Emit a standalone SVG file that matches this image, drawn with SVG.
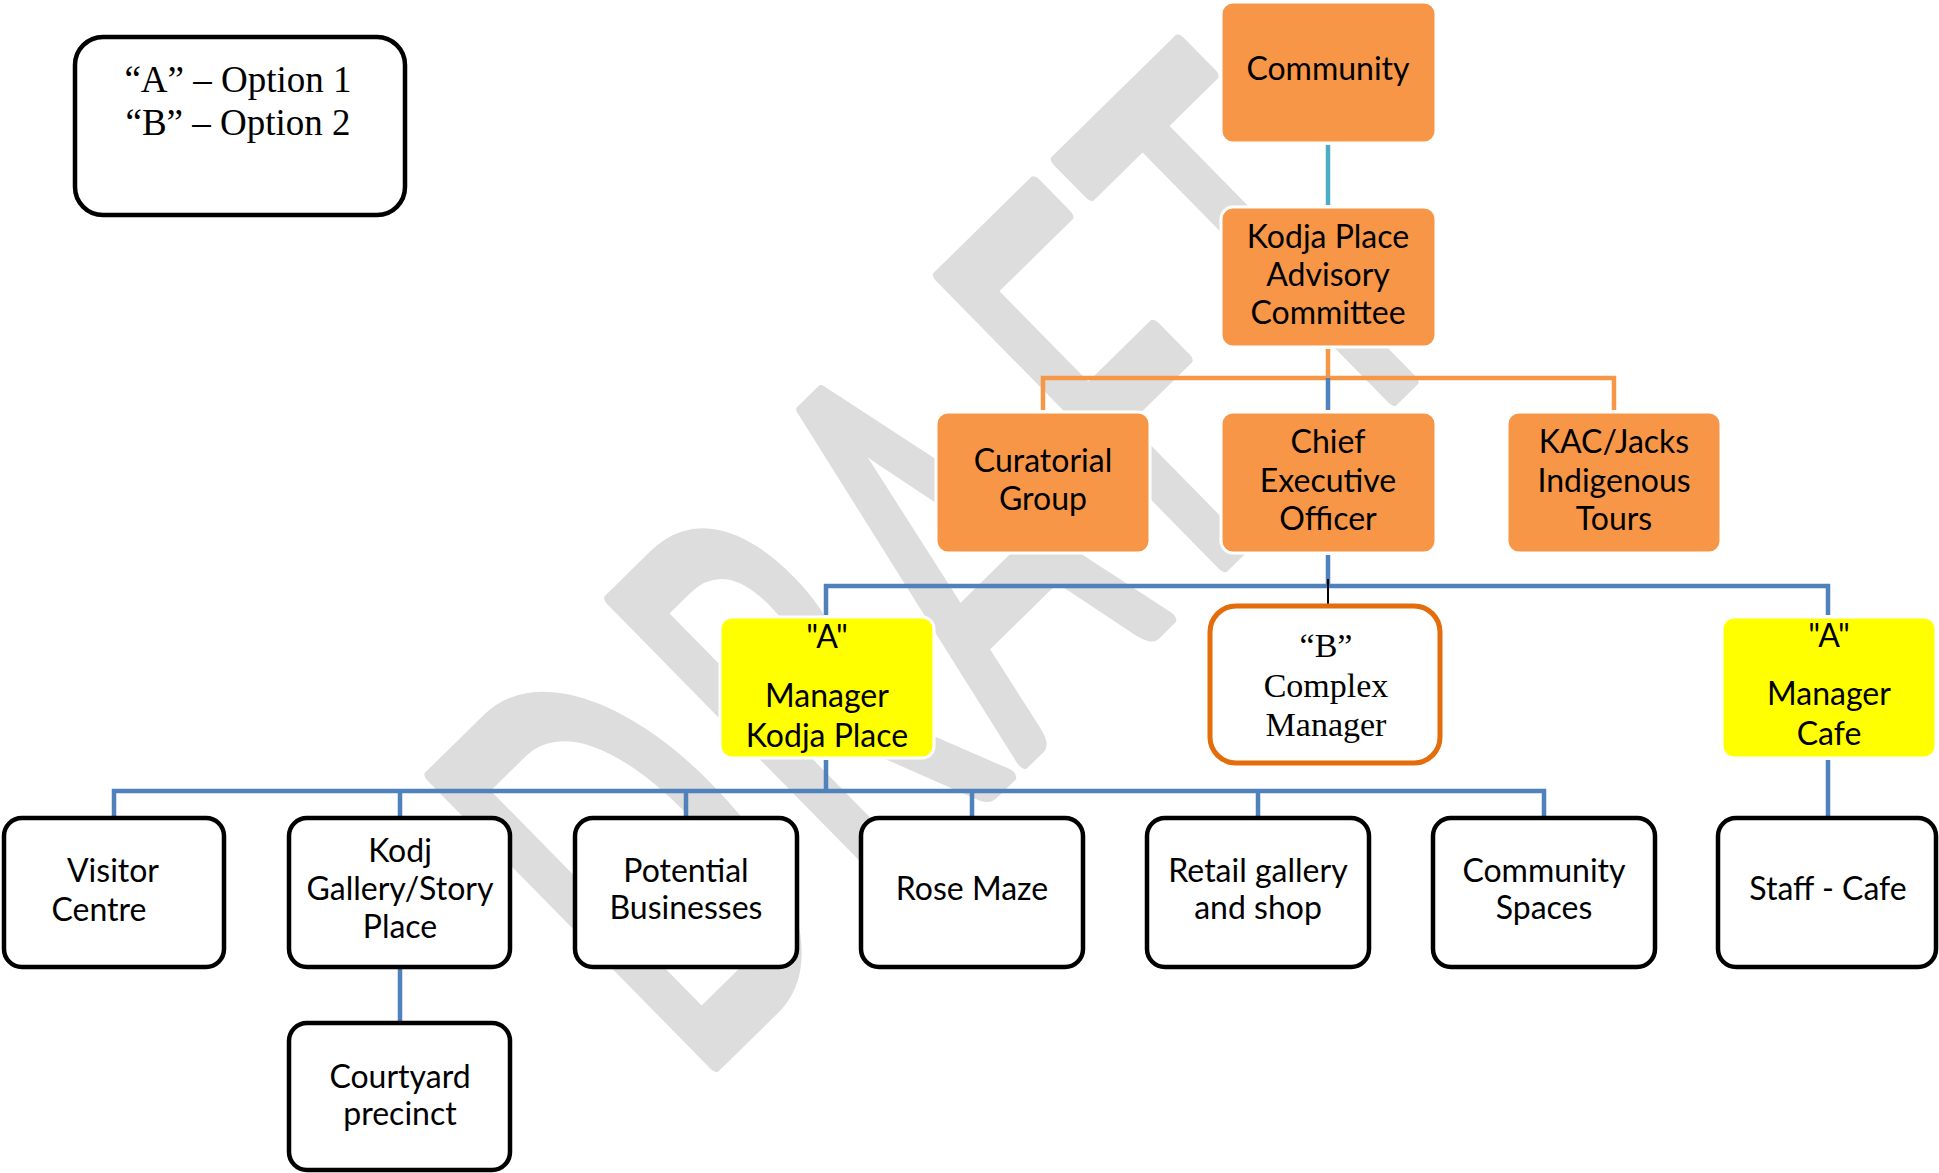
<svg xmlns="http://www.w3.org/2000/svg" width="1939" height="1173" viewBox="0 0 1939 1173">
<defs>
<style>
.wm{font-family:Lato,"Open Sans",sans-serif;font-size:310px;fill:#dddddd;stroke:#dddddd;stroke-width:8;stroke-linejoin:round}
.org{fill:#f79646;stroke:#ffffff;stroke-width:3}
.yel{fill:#ffff00;stroke:#ffffff;stroke-width:3}
.wht{fill:#ffffff;stroke:#000000;stroke-width:4.5}
.bbox{fill:#ffffff;stroke:#e46c0a;stroke-width:5}
.t{font-family:Lato,"Open Sans",sans-serif;font-size:32px;fill:#000000;text-anchor:middle}
.s{font-family:"Liberation Serif","Times New Roman",serif;fill:#000000;text-anchor:middle}
.blue{stroke:#4f81bd;stroke-width:4.5;fill:none}
.orange{stroke:#f79646;stroke-width:4.5;fill:none}
</style>
</defs>
<rect width="1939" height="1173" fill="#ffffff"/>
<g id="watermark" transform="translate(713.3 1066.4) rotate(-44.5) scale(1 1.82)">
<text class="wm" x="-28" y="0">D</text>
<text class="wm" x="224" y="0">R</text>
<text class="wm" x="432" y="0">A</text>
<text class="wm" x="685" y="0">F</text>
<text class="wm" x="874" y="0">T</text>
</g>
<g id="connectors">
<line x1="1328" y1="145" x2="1328" y2="205" stroke="#4bacc6" stroke-width="4.5"/>
<path class="orange" d="M1328 349 V378 M1043 410 V378 H1614 V410"/>
<path class="blue" d="M1328 378 V410 M1328 555 V586 M826 615 V586 H1828 V615 M826 760 V791 M114 816 V791 H1544 V816 M400 791 V816 M686 791 V816 M972 791 V816 M1258 791 V816 M400 969 V1021 M1828 760 V816"/>
<line x1="1328" y1="579" x2="1328" y2="604" stroke="#000000" stroke-width="2"/>
</g>
<g id="legend">
<rect class="wht" x="75" y="37" width="330" height="178" rx="28"/>
<text class="s" x="238" y="92" font-size="37">“A” – Option 1</text>
<text class="s" x="238" y="135" font-size="37">“B” – Option 2</text>
</g>
<g id="community">
<rect class="org" x="1221" y="2" width="215" height="141" rx="12"/>
<text class="t" x="1328" y="80">Community</text>
</g>
<g id="kpac">
<rect class="org" x="1221" y="207" width="215" height="140" rx="12"/>
<text class="t" x="1328" y="248">Kodja Place</text>
<text class="t" x="1328" y="286">Advisory</text>
<text class="t" x="1328" y="324">Committee</text>
</g>
<g id="curatorial">
<rect class="org" x="936" y="412" width="214" height="141" rx="12"/>
<text class="t" x="1043" y="472">Curatorial</text>
<text class="t" x="1043" y="510">Group</text>
</g>
<g id="ceo">
<rect class="org" x="1221" y="412" width="215" height="141" rx="12"/>
<text class="t" x="1328" y="453">Chief</text>
<text class="t" x="1328" y="492">Executive</text>
<text class="t" x="1328" y="530">Officer</text>
</g>
<g id="kac">
<rect class="org" x="1507" y="412" width="214" height="141" rx="12"/>
<text class="t" x="1614" y="453">KAC/Jacks</text>
<text class="t" x="1614" y="492">Indigenous</text>
<text class="t" x="1614" y="530">Tours</text>
</g>
<g id="manager-kodja">
<rect class="yel" x="720" y="617" width="214" height="141" rx="12"/>
<text class="t" x="827" y="648">"A"</text>
<text class="t" x="827" y="707">Manager</text>
<text class="t" x="827" y="747">Kodja Place</text>
</g>
<g id="complex-manager">
<rect class="bbox" x="1210" y="606" width="230" height="157" rx="26"/>
<text class="s" x="1326" y="657" font-size="34">“B”</text>
<text class="s" x="1326" y="697" font-size="34">Complex</text>
<text class="s" x="1326" y="736" font-size="34">Manager</text>
</g>
<g id="manager-cafe">
<rect class="yel" x="1722" y="617" width="214" height="141" rx="12"/>
<text class="t" x="1829" y="647">"A"</text>
<text class="t" x="1829" y="705">Manager</text>
<text class="t" x="1829" y="745">Cafe</text>
</g>
<g id="visitor-centre">
<rect class="wht" x="4" y="818" width="220" height="149" rx="18"/>
<text class="t" x="113" y="882">Visitor</text>
<text class="t" x="99" y="921">Centre</text>
</g>
<g id="kodj-gallery">
<rect class="wht" x="289" y="818" width="221" height="149" rx="18"/>
<text class="t" x="400" y="862">Kodj</text>
<text class="t" x="400" y="900">Gallery/Story</text>
<text class="t" x="400" y="938">Place</text>
</g>
<g id="courtyard">
<rect class="wht" x="289" y="1023" width="221" height="147" rx="18"/>
<text class="t" x="400" y="1088">Courtyard</text>
<text class="t" x="400" y="1125">precinct</text>
</g>
<g id="potential">
<rect class="wht" x="575" y="818" width="222" height="149" rx="18"/>
<text class="t" x="686" y="882">Potential</text>
<text class="t" x="686" y="919">Businesses</text>
</g>
<g id="rose-maze">
<rect class="wht" x="861" y="818" width="222" height="149" rx="18"/>
<text class="t" x="972" y="900">Rose Maze</text>
</g>
<g id="retail">
<rect class="wht" x="1147" y="818" width="222" height="149" rx="18"/>
<text class="t" x="1258" y="882">Retail gallery</text>
<text class="t" x="1258" y="919">and shop</text>
</g>
<g id="community-spaces">
<rect class="wht" x="1433" y="818" width="222" height="149" rx="18"/>
<text class="t" x="1544" y="882">Community</text>
<text class="t" x="1544" y="919">Spaces</text>
</g>
<g id="staff-cafe">
<rect class="wht" x="1718" y="818" width="218" height="149" rx="18"/>
<text class="t" x="1828" y="900">Staff - Cafe</text>
</g>
</svg>
